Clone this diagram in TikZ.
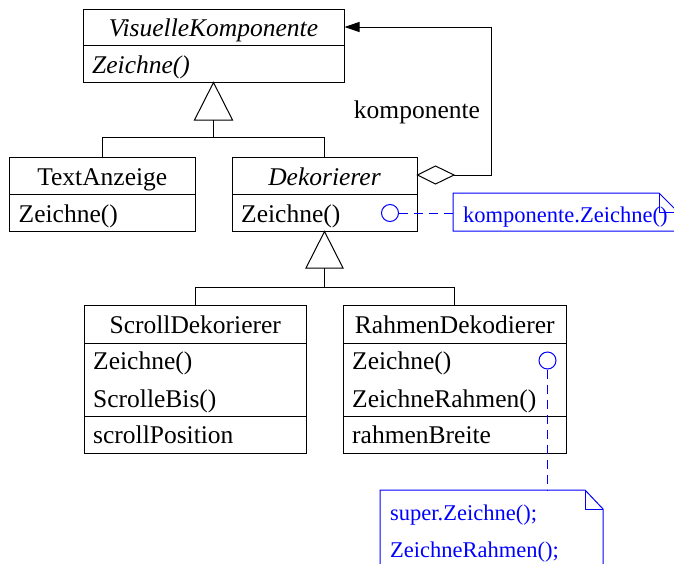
\documentclass[tikz,border=0pt]{standalone}
\usepackage{fontspec}
\setmainfont{Liberation Serif}
\usetikzlibrary{arrows.meta}
\tikzset{
  cls/.style={draw=black, line width=1pt, rectangle, inner sep=0pt},
  txt/.style={inner sep=0pt, font=\fontsize{25.5}{27}\selectfont},
  mth/.style={txt, anchor=base west},
  ttl/.style={txt, anchor=base},
  note/.style={draw=blue, line width=1pt},
  ntxt/.style={inner sep=0pt, anchor=base west, text=blue, font=\fontsize{22.5}{24}\selectfont},
  conn/.style={draw=black, line width=1pt},
  lollipop/.style={draw=blue, line width=1pt, circle, minimum size=17pt, inner sep=0pt},
  dashline/.style={draw=blue, line width=1pt, dash pattern=on 9pt off 6pt},
}
\begin{document}
\begin{tikzpicture}[x=1pt, y=-1pt]
\useasboundingbox (0,0) rectangle (674,563);
\clip (0,0) rectangle (674,563);

% VisuelleKomponente
\node[cls, minimum width=261pt, minimum height=73pt] (vk) at (213.5,45.5) {};
\draw[conn] (83,45) -- (344,45);
\node[ttl] (vkt) at (213.5,36) {\itshape VisuelleKomponente};
\node[mth] (vkm) at (92,73) {\itshape Zeichne()};

% TextAnzeige
\node[cls, minimum width=185.5pt, minimum height=74pt] (ta) at (102.25,194) {};
\draw[conn] (9.5,194) -- (195,194);
\node[ttl] (tat) at (102.25,185) {TextAnzeige};
\node[mth] (tam) at (18.5,222) {Zeichne()};

% Dekorierer
\node[cls, minimum width=185pt, minimum height=74pt] (dk) at (324.5,194) {};
\draw[conn] (232,194) -- (417,194);
\node[ttl] (dkt) at (324.5,185) {\itshape Dekorierer};
\node[mth] (dkm) at (241,222) {Zeichne()};

% ScrollDekorierer
\node[cls, minimum width=222.5pt, minimum height=147.5pt] (sd) at (195.25,379.25) {};
\draw[conn] (84,343) -- (306.5,343);
\draw[conn] (84,416.5) -- (306.5,416.5);
\node[ttl] (sdt) at (195.25,333) {ScrollDekorierer};
\node[mth] (sdm1) at (93,369) {Zeichne()};
\node[mth] (sdm2) at (93,407) {ScrolleBis()};
\node[mth] (sda) at (93,443) {scrollPosition};

% RahmenDekodierer
\node[cls, minimum width=223.5pt, minimum height=147.5pt] (rd) at (454.75,379.25) {};
\draw[conn] (343,343) -- (566.5,343);
\draw[conn] (343,416.5) -- (566.5,416.5);
\node[ttl] (rdt) at (454.75,333) {RahmenDekodierer};
\node[mth] (rdm1) at (352,369) {Zeichne()};
\node[mth] (rdm2) at (352,407) {ZeichneRahmen()};
\node[mth] (rda) at (352,443) {rahmenBreite};

% Inheritance 1
\coordinate (t1) at (213.5,120);
\coordinate (j1) at (213.5,137.5);
\draw[conn, fill=white] (vk.south) -- (194.5,120) -- (232.5,120) -- cycle;
\draw[conn] (t1) -- (j1);
\draw[conn] (j1) -| (ta.north);
\draw[conn] (j1) -| (dk.north);

% Inheritance 2
\coordinate (t2) at (dk.south |- 0,268);
\coordinate (j2) at (dk.south |- 0,287);
\draw[conn, fill=white] (dk.south) -- ([xshift=-18.5pt]t2) -- ([xshift=18.5pt]t2) -- cycle;
\draw[conn] (t2) -- (j2);
\draw[conn] (j2) -| (sd.north);
\draw[conn] (j2) -| (rd.north);

% Aggregation
\coordinate (dia) at (dk.east |- 0,175);
\coordinate (diaend) at (454,175);
\coordinate (bend) at (491,175);
\coordinate (top) at (491,27);
\draw[conn, fill=white] (dia) -- (435.5,166) -- (diaend) -- (435.5,184) -- cycle;
\draw[conn, -{Triangle[length=15pt, width=10pt]}] (diaend) -- (bend) -- (top) -- (vk.east |- top);
\node[txt, anchor=base] (lbl) at (417,118) {komponente};

% Note 1
\draw[note] (453,193) -- (659,193) -- (678,212) -- (678,231) -- (453,231) -- cycle;
\draw[note] (659,193) -- (659,212) -- (678,212);
\coordinate (n1) at (453,213);
\node[ntxt] (n1t) at (463,222) {komponente.Zeichne()};
\node[lollipop] (c1) at (390,213) {};
\draw[dashline] (c1.east) -- (n1);

% Note 2
\draw[note] (380,490) -- (585,490) -- (603,509) -- (603,575) -- (380,575) -- cycle;
\draw[note] (585,490) -- (585,509) -- (603,509);
\coordinate (n2) at (547.5,490);
\node[ntxt] (n2t1) at (390,520) {super.Zeichne();};
\node[ntxt] (n2t2) at (390,557) {ZeichneRahmen();};
\node[lollipop] (c2) at (547.5,360.5) {};
\draw[dashline] (c2.south) -- (n2);
\end{tikzpicture}
\end{document}
